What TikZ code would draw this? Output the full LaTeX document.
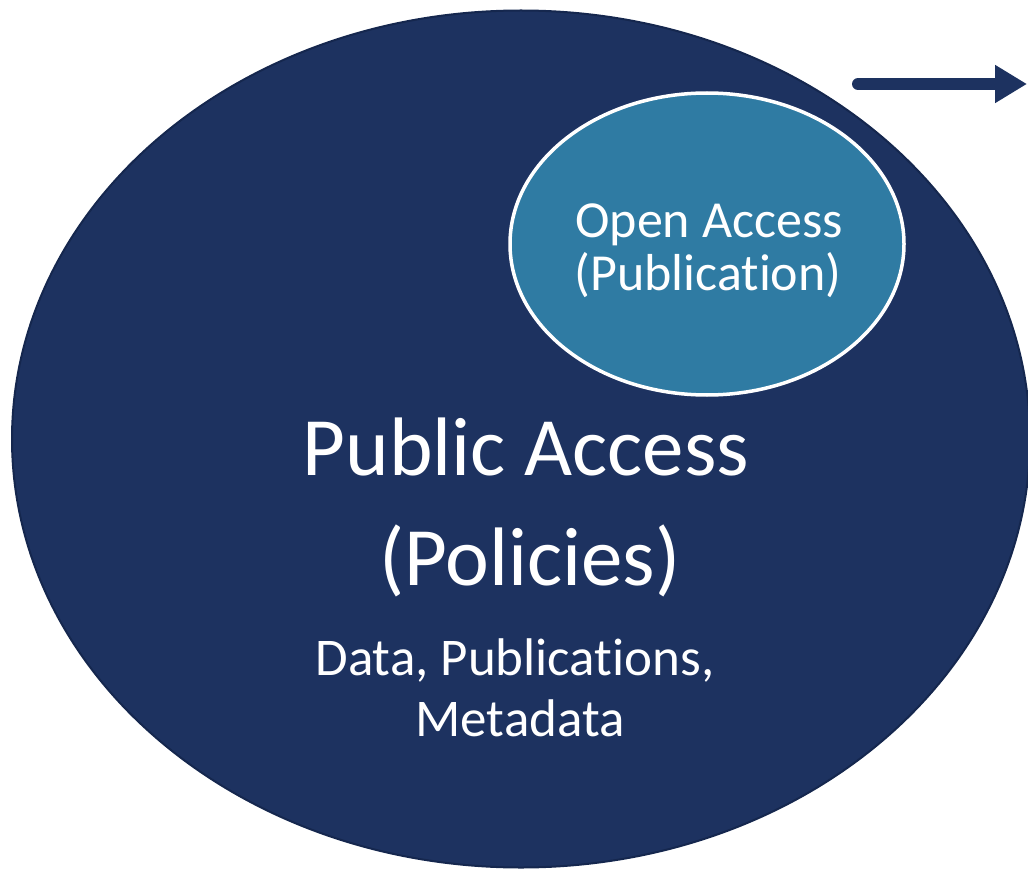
\documentclass[tikz,border=0pt]{standalone}
\usepackage{fontspec}
\setmainfont[Ligatures=NoCommon]{Carlito}
\usetikzlibrary{shapes.geometric, arrows.meta, positioning}
\definecolor{policyblue}{RGB}{29,50,96}
\definecolor{policyedge}{RGB}{21,39,78}
\definecolor{openblue}{RGB}{47,123,163}
\tikzset{x=1pt, y=-1pt, % One unit is one pixel of the layout
outer oval/.style={ % The large policy ellipse
ellipse, inner sep=0pt,
fill=policyblue, draw=policyedge, line width=2pt,
minimum width=1018pt, minimum height=857pt},
inner oval/.style={ % The open access ellipse
ellipse, inner sep=0pt,
fill=openblue, draw=white, line width=3.5pt,
minimum width=394pt, minimum height=302pt},
label text/.style={ % White text on the ellipses
text=white, inner sep=0pt, anchor=base},
pointer/.style={ % The arrow at the top right
draw=policyblue, line width=12pt, line cap=round,
-{Triangle[length=32pt,width=36pt]}}}

\begin{document}
\begin{tikzpicture}
    \useasboundingbox (0,0) rectangle (1028,869);

    \node[outer oval] (policies) at (521,439) {};
    \node[inner oval] (openaccess) at (707,244) {};

    \node[label text, font=\fontsize{52}{62}\selectfont] (oatitle) at (709,237) {Open Access};
    \node[label text, font=\fontsize{52}{62}\selectfont] (oasub) at (708,290) {(Publication)};
    \node[label text, font=\fontsize{83}{100}\selectfont] (patitle) at (526,475) {Public Access};
    \node[label text, font=\fontsize{83}{100}\selectfont] (pasub) at (530,585) {(Policies)};
    \node[label text, font=\fontsize{53}{64}\selectfont] (scope1) at (515,675) {Data, Publications,};
    \node[label text, font=\fontsize{53}{64}\selectfont] (scope2) at (520,736) {Metadata};

    \coordinate (arrowtail) at (858,84);
    \coordinate (arrowtip) at (1027,84);
    \draw[pointer] (arrowtail) -- (arrowtip);

\end{tikzpicture}
\end{document}
